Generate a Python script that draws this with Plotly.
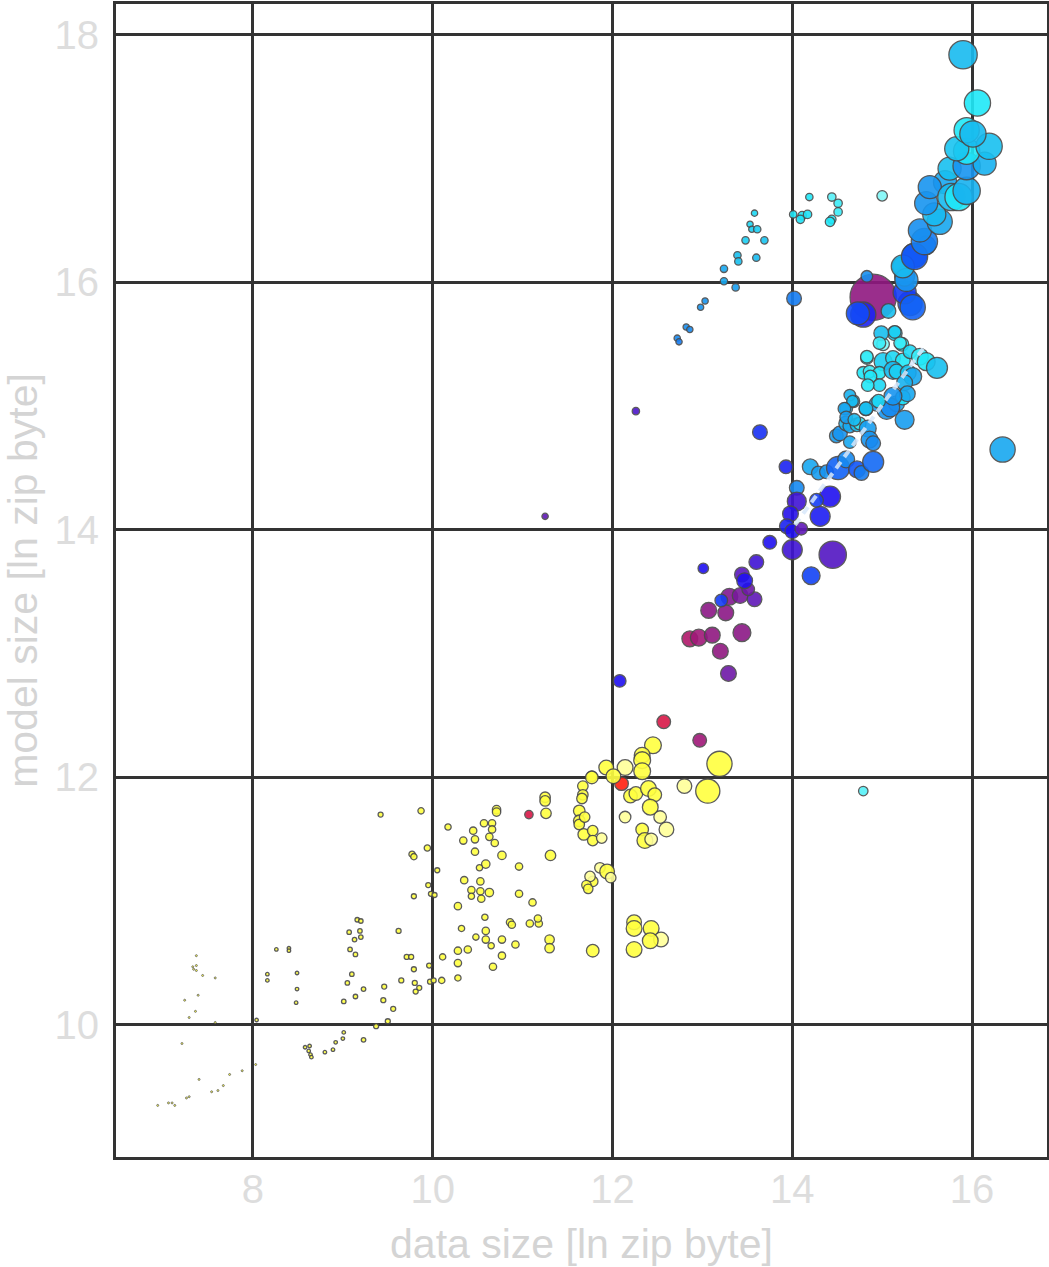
import plotly.graph_objects as go

# ---- data: (ln data size, ln model size, bubble weight, colour value) ----
data_size = [
    # tiny
    7.37,7.33,7.34,7.37,7.37,7.44,7.58,7.39,7.24,7.36,7.29,7.58,7.21,7.40,7.74,7.88,8.03,7.67,7.61,7.54,7.29,7.26,6.94,7.06,7.10,7.13,
    # small
    8.26,8.40,8.40,8.16,8.16,8.49,8.49,8.48,8.04,8.63,8.58,8.62,8.64,8.65,8.80,8.89,8.92,9.00,9.01,
    9.16,9.20,9.07,9.19,9.20,9.13,9.08,9.14,9.10,9.05,9.23,9.01,9.14,9.23,
    9.46,9.45,9.56,9.50,9.37,9.65,9.71,9.76,9.79,9.80,9.85,9.81,9.96,9.97,10.01,9.42,9.62,10.05,9.95,9.98,10.02,9.79,
    9.87,9.94,9.77,9.79,
    # mid yellow
    10.11,10.28,10.28,10.39,10.28,10.10,10.17,10.34,10.45,10.47,10.57,10.66,10.66,10.63,10.69,10.71,10.71,10.47,10.77,10.59,
    10.52,10.96,10.35,10.53,10.43,10.53,10.63,10.43,10.54,10.96,10.28,11.11,10.58,10.32,10.86,10.88,11.08,11.18,11.17,10.59,
    10.59,10.48,10.65,10.77,10.92,10.77,10.67,
    11.07,
    11.30,11.30,11.31,11.26,11.25,11.25,11.63,11.63,11.63,11.68,11.78,11.78,11.78,11.67,11.67,11.66,11.77,11.88,11.86,11.94,
    11.98,11.75,11.71,11.73,11.78,11.69,
    12.10,12.20,12.26,12.40,12.47,12.42,12.14,12.53,12.33,12.60,12.36,12.43,12.80,13.06,13.19,12.24,12.24,12.43,12.54,12.42,
    12.24,12.45,12.33,12.33,12.33,12.14,11.93,11.77,12.01,
    12.57,12.97,
    # purple
    12.08,12.86,12.96,13.11,13.20,13.29,13.07,13.26,13.44,13.30,13.21,13.42,13.58,13.51,13.44,13.47,13.01,13.60,13.75,14.00,
    14.45,14.21,12.26,11.25,
    # blue
    13.64,13.93,14.05,14.05,13.98,13.94,14.00,14.10,14.42,14.31,14.27,
    14.20,14.29,14.38,14.51,14.60,14.72,14.77,14.90,14.49,14.53,14.64,14.60,14.64,14.72,14.75,14.84,14.86,14.90,14.60,14.68,
    14.82,14.94,15.05,15.16,15.25,15.23,14.64,14.67,14.58,14.60,14.69,15.09,
    # cyan cloud
    15.01,15.14,15.22,14.83,15.01,15.12,15.23,15.31,15.42,15.49,15.61,14.79,14.86,14.97,14.87,14.97,14.84,15.12,15.16,15.29,
    15.34,15.25,15.28,15.12,14.96,14.82,14.99,15.14,14.97,15.20,14.83,
    # big purple and the blues round it
    14.90,
    14.83,14.79,14.73,15.07,15.31,15.25,15.25,15.22,15.36,15.49,14.02,
    # top chain
    15.34,15.27,15.23,15.36,15.47,15.42,15.64,15.58,15.49,15.70,15.53,15.77,15.85,15.94,15.75,15.94,16.14,15.94,15.83,16.19,
    15.94,16.01,16.06,15.90,
    # upper-left small cyan
    13.58,13.53,13.55,13.61,13.48,13.69,13.39,13.40,13.60,13.24,13.24,13.37,13.03,12.98,12.82,12.86,12.72,12.74,
    14.01,14.11,14.09,14.17,14.19,14.44,14.51,14.51,14.44,14.42,15.00,
    # outliers
    16.34,14.79,
]

model_size = [
    10.56,10.47,10.45,10.48,10.44,10.40,10.38,10.24,10.20,10.11,10.06,10.02,9.85,9.56,9.60,9.63,9.68,9.51,9.47,9.46,9.42,9.41,9.35,9.37,9.37,9.35,
    10.61,10.62,10.60,10.41,10.36,10.42,10.29,10.18,10.04,9.83,9.82,9.79,9.76,9.74,9.78,9.80,9.86,9.89,9.94,
    10.85,10.84,10.75,10.76,10.71,10.69,10.61,10.57,10.41,10.34,10.29,10.19,10.23,9.88,
    10.31,10.20,10.13,10.03,9.99,10.36,10.55,10.55,10.45,10.34,10.30,10.27,10.48,10.35,10.36,11.70,10.76,11.25,11.13,11.06,11.05,11.04,
    11.73,11.43,11.38,11.36,
    10.55,10.60,10.50,10.61,10.38,10.36,11.60,11.49,11.57,11.50,11.63,11.63,11.58,11.52,11.47,11.74,11.72,11.40,11.37,11.30,
    11.27,11.28,11.17,11.16,11.09,11.08,11.07,11.04,11.02,11.06,10.96,10.99,10.87,10.78,10.83,10.81,10.82,10.82,10.86,10.76,
    10.69,10.71,10.64,10.69,10.65,10.56,10.47,
    11.70,
    10.69,10.62,11.37,11.71,11.84,11.81,11.73,11.65,11.62,11.54,11.57,11.49,11.16,11.93,11.86,11.83,12.01,11.51,11.27,11.24,
    11.19,11.20,11.13,11.10,10.60,11.68,
    11.95,11.85,11.87,11.91,11.86,11.76,11.68,11.68,11.58,11.58,11.49,11.50,11.93,11.89,12.11,10.83,10.78,10.78,10.69,10.68,
    10.61,12.26,12.18,12.14,12.05,12.08,12.08,12.00,12.01,
    12.45,12.30,
    12.78,13.12,13.13,13.15,13.02,12.84,13.35,13.33,13.17,13.46,13.43,13.47,13.44,13.52,13.64,13.59,13.69,13.74,13.90,13.84,
    13.80,13.63,14.96,14.11,
    14.79,14.51,14.34,14.23,14.13,14.03,13.99,14.01,14.27,14.11,14.24,
    14.51,14.46,14.47,14.50,14.57,14.49,14.46,14.55,14.76,14.78,14.71,14.86,14.84,14.85,14.86,14.82,14.73,14.70,14.98,15.04,
    14.98,15.02,14.97,15.02,14.89,15.07,15.09,15.04,14.98,14.91,14.89,14.99,
    15.50,15.59,15.50,15.39,15.36,15.39,15.37,15.44,15.40,15.36,15.31,15.27,15.28,15.27,15.24,15.17,15.17,15.29,15.28,15.27,
    15.24,15.19,15.10,15.08,15.04,14.98,15.59,15.60,15.51,15.51,15.40,
    15.88,
    16.05,15.74,15.75,15.77,15.83,15.92,16.05,16.13,16.22,16.30,15.87,
    15.80,16.02,16.13,16.21,16.33,16.42,16.49,16.55,16.64,16.81,16.77,16.69,16.69,16.74,16.92,16.94,16.96,17.06,17.08,17.10,
    17.23,17.20,17.45,17.84,
    16.56,16.47,16.43,16.43,16.34,16.34,16.22,16.17,16.20,16.11,16.01,15.96,15.85,15.80,15.64,15.62,15.55,15.52,
    16.55,16.54,16.51,16.55,16.69,16.69,16.64,16.57,16.51,16.49,16.70,
    14.65,11.89,
]

weight = (
    [2]*26
    + [3.5]*19
    + [4.5]*14
    + [5]*22
    + [6]*4
    + [6,7,7,7,6,6,6,7,7,7,7,7,7,7,7,8,8,7,8,8,6,7,7,7,7,7,8,6,7,7,7,7,6,6,7,7,7,7,7,7,7,6,6,7,7,7,7]
    + [8]
    + [9,9,10,10,10,10,11,11,10,11,10,10,10,10,10,10,10,10,10,14,10,10,9,9,12,10]
    + [13,13,13,15,13,15,11,12,12,14,15,12,14,23,24,14,15,15,14,15,15,16,15,16,16,15,14,12,14]
    + [13,13]
    + [12,15,16,15,15,15,15,15,17,16,12,15,14,12,14,15,10,14,13,19,26,17,7,6]
    + [14,13,14,18,15,14,14,12,20,19,13]
    + [15,13,13,22,16,16,14,20,13,14,12,14,13,13,12,16,16,14,12,12,13,14,18,15,18,14,11,11,12,12,12,18]
    + [12,14,13,12,17,14,14,13,16,17,20,12,12,12,12,12,12,17,14,15,17,15,15,17,13,13,14,12,12,12,12]
    + [44]
    + [11,24,22,14,23,22,19,18,23,18,14]
    + [24,22,22,25,25,22,24,22,22,22,22,26,26,26,22,26,22,25,23,25,24,25,25,27]
    + [6,6,6,7,7,7,7,7,7,7,7,7,6,6,6,6,6,6]
    + [7,8,8,8,7,8,8,8,8,9,10]
    + [24,9]
)

colour_value = (
    [0.05]*26 + [0.05]*19 + [0.05]*14 + [0.05]*22 + [0.05]*4
    + [0.05]*47
    + [0.25]
    + [0.05,0.05,0.05,0.05,0.05,0.05,0.05,0.05,0.05,0.05,0.05,0.05,0.05,0.05,0.05,0.05,0.05,0.0,0.0,0.05,
       0.0,0.0,0.05,0.05,0.05,0.05]
    + [0.15,0.05,0.05,0.05,0.05,0.05,0.0,0.0,0.05,0.0,0.05,0.0,0.0,0.05,0.05,0.05,0.05,0.05,0.0,0.05,
       0.05,0.05,0.05,0.05,0.05,0.0,0.05,0.05,0.05]
    + [0.25,0.32]
    + [0.55,0.30,0.32,0.35,0.35,0.42,0.36,0.36,0.36,0.38,0.62,0.40,0.45,0.42,0.46,0.55,0.55,0.50,0.55,0.50,
       0.47,0.63,0.48,0.45]
    + [0.60,0.58,0.74,0.50,0.54,0.58,0.55,0.45,0.55,0.57,0.62]
    + [0.80,0.78,0.76,0.68,0.74,0.66,0.72,0.69,0.78,0.76,0.80,0.82,0.80,0.86,0.95,0.78,0.76,0.74,0.82,0.84,
       0.80,0.78,0.76,0.80,0.78,0.92,0.82,0.84,0.80,0.78,0.84,0.74]
    + [1.0,0.88,0.93,0.93,0.88,0.90,0.93,0.90,0.95,0.93,0.85,0.93,0.95,0.93,0.93,0.90,0.93,0.84,0.88,0.86,
       0.80,0.82,0.80,0.76,0.90,0.85,0.85,0.88,0.95,0.95,0.95]
    + [0.35]
    + [0.75,0.58,0.64,0.85,0.66,0.62,0.76,0.84,0.70,0.75,0.72]
    + [0.68,0.76,0.84,0.66,0.72,0.75,0.80,0.84,0.76,0.80,0.76,0.84,0.93,0.82,0.85,0.76,0.82,0.93,0.86,0.85,
       0.93,0.84,0.93,0.84]
    + [0.90,0.90,0.88,0.88,0.88,0.86,0.85,0.85,0.84,0.80,0.80,0.78,0.76,0.76,0.75,0.74,0.74,0.72]
    + [0.93,0.93,0.92,0.92,0.93,0.97,0.95,0.95,0.93,0.93,1.0]
    + [0.80,0.97]
)

guide_x = [14.03, 15.46]
guide_y = [14.04, 15.47]

x_ticks = [8, 10, 12, 14, 16]
y_ticks = [10, 12, 14, 16, 18]

colorscale = [
    [0.00, "#ffff9a"], [0.05, "#ffff40"], [0.15, "#ff2010"], [0.25, "#d81848"],
    [0.32, "#a01878"], [0.35, "#901880"], [0.45, "#6018b8"], [0.55, "#2010f0"],
    [0.65, "#1050f8"], [0.75, "#1890f0"], [0.85, "#18c0f0"], [0.93, "#20e8f8"],
    [1.00, "#80f8f8"],
]

n = min(len(data_size), len(model_size), len(weight), len(colour_value))
marker_px = [w * 1.05 if w > 5 else w for w in weight[:n]]
line_w = [0.8 if w <= 2 else 1.3 for w in weight[:n]]

fig = go.Figure()
fig.add_trace(go.Scatter(
    x=data_size[:n], y=model_size[:n], mode="markers",
    marker=dict(size=marker_px, color=colour_value[:n], colorscale=colorscale,
                cmin=0, cmax=1, opacity=0.9,
                line=dict(color="#4a4a4a", width=line_w)),
    showlegend=False, hoverinfo="x+y",
))
fig.add_trace(go.Scatter(
    x=guide_x, y=guide_y, mode="lines",
    line=dict(color="rgba(215,232,250,0.85)", width=4, dash="8px,6px"),
    showlegend=False, hoverinfo="skip",
))

axis_common = dict(
    showgrid=True, gridcolor="#333333", gridwidth=3,
    showline=True, linecolor="#333333", linewidth=3, mirror=True,
    zeroline=False, ticks="", automargin=False,
    tickfont=dict(family="Liberation Sans, Arial, sans-serif", size=40, color="#dddddd"),
    title_font=dict(family="Liberation Sans, Arial, sans-serif", size=41, color="#d4d4d4"),
)

fig.update_layout(
    width=1049, height=1267,
    margin=dict(l=116, r=2, t=4, b=110, autoexpand=False),
    paper_bgcolor="white", plot_bgcolor="white",
    xaxis=dict(range=[6.476, 16.834], tickvals=x_ticks, title_text="data size [ln zip byte]",
               ticklabelstandoff=-5, title_standoff=23, **axis_common),
    yaxis=dict(range=[8.933, 18.25], tickvals=y_ticks, title_text="model size [ln zip byte]",
               ticklabelstandoff=6, title_standoff=20, **axis_common),
)

fig.write_html("out.html", config={"displayModeBar": False},
               post_script="document.body.style.margin='0';document.body.style.overflow='hidden';")
